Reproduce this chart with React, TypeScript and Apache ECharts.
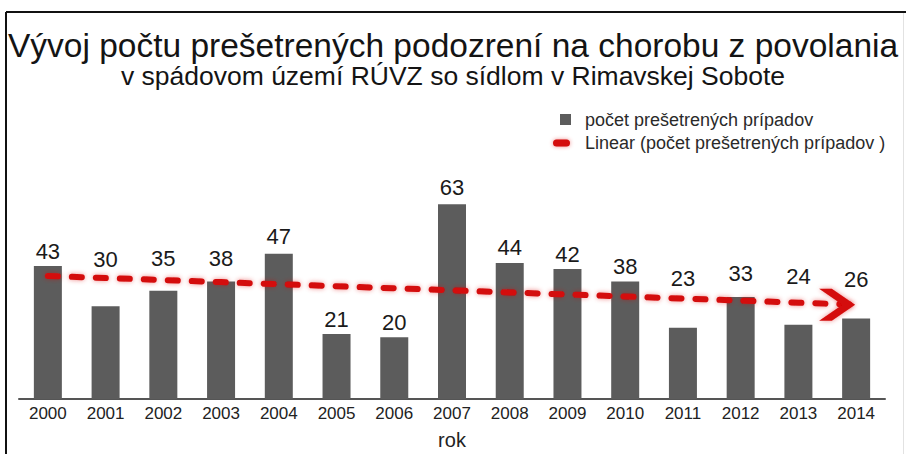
import React, { useEffect, useRef } from "react";
import * as echarts from "echarts";

const titleText = "Vývoj počtu prešetrených podozrení na chorobu z povolania";
const subtitleText = "v spádovom území RÚVZ so sídlom v Rimavskej Sobote";
const years = ["2000", "2001", "2002", "2003", "2004", "2005", "2006", "2007", "2008", "2009", "2010", "2011", "2012", "2013", "2014"];
const cases = [43, 30, 35, 38, 47, 21, 20, 63, 44, 42, 38, 23, 33, 24, 26];
const barName = "počet prešetrených prípadov";
const trendName = "Linear (počet prešetrených prípadov )";
const axisName = "rok";

// label lift (px) so labels clear the trend line, as in the reference
const labelLift = [0, 32, 17, 8, 2, 0, 0, 2, 0, 0, 0, 34, 8, 33, 24];

function linearTrend(vals: number[]): number[] {
  const n = vals.length;
  const mx = (n - 1) / 2;
  const my = vals.reduce((a, b) => a + b, 0) / n;
  let sxy = 0, sxx = 0;
  vals.forEach((v, i) => { sxy += (i - mx) * (v - my); sxx += (i - mx) * (i - mx); });
  const k = sxy / sxx;
  return vals.map((_, i) => +(my + k * (i - mx)).toFixed(3));
}

const FONT = "'Liberation Sans', Arial, Helvetica, sans-serif";

export default function App() {
  const ref = useRef<HTMLDivElement>(null);
  useEffect(() => {
    if (!ref.current) return;
    const chart = echarts.init(ref.current, null, { renderer: "svg" });
    const trend = linearTrend(cases);
    const red = "#d40b0b";
    const barColor = "#5c5c5c";
    const glow = "rgba(220,0,0,0.45)";
    const trendData = trend.map((v, i) =>
      i === trend.length - 1
        ? {
            value: v,
            symbol: "path://M0,0 L12,0 L34,16 L12,32 L0,32 L22,16 Z",
            symbolSize: [36, 32],
            symbolOffset: [-19, 0],
            symbolKeepAspect: false,
          }
        : { value: v }
    );
    chart.setOption({
      animation: false,
      backgroundColor: "#ffffff",
      textStyle: { fontFamily: FONT },
      title: [
        {
          text: titleText,
          left: "center",
          top: 27,
          padding: 0,
          textStyle: { fontFamily: FONT, fontSize: 33.5, fontWeight: "normal", color: "#141414", lineHeight: 36 },
        },
        {
          text: subtitleText,
          left: "center",
          top: 62,
          padding: 0,
          textStyle: { fontFamily: FONT, fontSize: 26.5, fontWeight: "normal", color: "#141414", lineHeight: 28 },
        },
      ],
      grid: { left: 19, right: 21, top: 182.5, bottom: 55, containLabel: false },
      xAxis: {
        type: "category",
        data: years,
        axisLine: { show: true, lineStyle: { color: "#555555", width: 2 } },
        axisTick: { show: false },
        axisLabel: { fontFamily: FONT, fontSize: 17, color: "#222222", margin: 6 },
        name: axisName,
        nameLocation: "middle",
        nameGap: 31,
        nameTextStyle: { fontFamily: FONT, fontSize: 20, color: "#222222" },
      },
      yAxis: {
        type: "value",
        min: 0,
        max: 70,
        show: false,
        splitLine: { show: false },
      },
      series: [
        {
          name: barName,
          type: "bar",
          barWidth: 28,
          itemStyle: { color: barColor },
          label: {
            show: true,
            position: "top",
            distance: 4,
            fontFamily: FONT,
            fontSize: 22,
            color: "#1a1a1a",
          },
          data: cases.map((v, i) => ({ value: v, label: { offset: [0, -labelLift[i]] } })),
          z: 2,
        },
        {
          name: trendName,
          type: "line",
          symbol: "none",
          data: trendData,
          itemStyle: { color: red, shadowBlur: 5, shadowColor: glow },
          lineStyle: {
            color: red,
            width: 6,
            type: [10, 14],
            cap: "round",
            shadowBlur: 5,
            shadowColor: glow,
          },
          z: 3,
          silent: true,
        },
      ],
      graphic: [
        { type: "line", shape: { x1: 6, y1: 12, x2: 906, y2: 12 }, style: { stroke: "#111111", lineWidth: 2 }, z: 100 },
        { type: "line", shape: { x1: 6, y1: 12, x2: 6, y2: 454 }, style: { stroke: "#111111", lineWidth: 2 }, z: 100 },
        { type: "line", shape: { x1: 903.5, y1: 13, x2: 903.5, y2: 454 }, style: { stroke: "#e2e2e2", lineWidth: 1 }, z: 100 },
        // legend
        { type: "rect", shape: { x: 560, y: 114, width: 11, height: 11 }, style: { fill: barColor }, z: 100 },
        {
          type: "rect",
          shape: { x: 553, y: 139.5, width: 17, height: 7, r: 3.5 },
          style: { fill: red, shadowBlur: 4, shadowColor: glow },
          z: 100,
        },
        {
          type: "text",
          x: 585,
          y: 120,
          style: { text: barName, fontFamily: FONT, fontSize: 18, fill: "#2a2a2a", verticalAlign: "middle", align: "left" },
          z: 100,
        },
        {
          type: "text",
          x: 585,
          y: 143,
          style: { text: trendName, fontFamily: FONT, fontSize: 18, fill: "#2a2a2a", verticalAlign: "middle", align: "left" },
          z: 100,
        },
      ],
    });
    return () => chart.dispose();
  }, []);
  return (
    <div
      ref={ref}
      style={{ position: "fixed", left: 0, top: 0, width: 906, height: 454, background: "#fff" }}
    />
  );
}
